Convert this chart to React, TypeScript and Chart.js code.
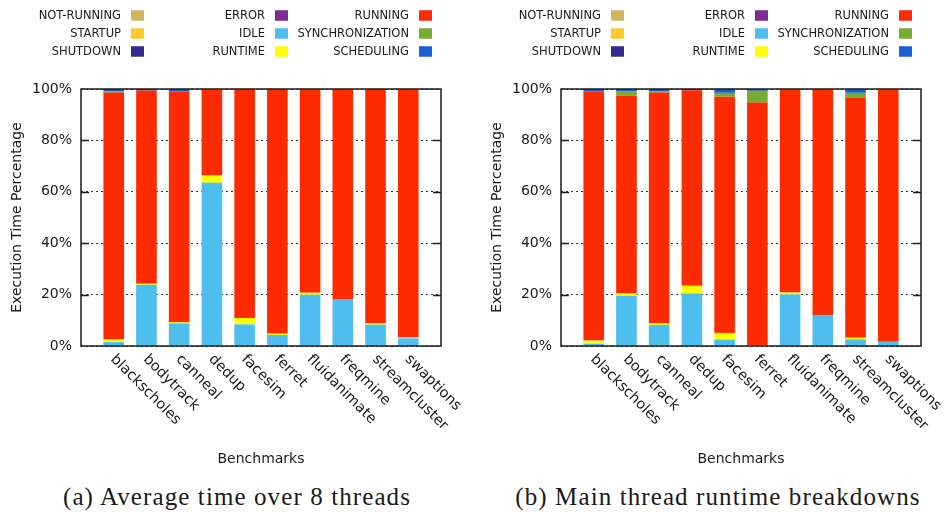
import React, { useEffect, useRef } from "react";
import { Chart, registerables } from "chart.js";

Chart.register(...registerables);

// ---------------- data ----------------
const benchmarks = [
  "blackscholes", "bodytrack", "canneal", "dedup", "facesim",
  "ferret", "fluidanimate", "freqmine", "streamcluster", "swaptions",
];
const yTicks = [0, 20, 40, 60, 80, 100];

const stateNames = [
  "NOT-RUNNING", "STARTUP", "SHUTDOWN",
  "ERROR", "IDLE", "RUNTIME",
  "RUNNING", "SYNCHRONIZATION", "SCHEDULING",
];
const stateColors = [
  "#ccb85c", "#ffc72c", "#35298a",
  "#7e2d8e", "#4dbeee", "#ffff00",
  "#ff2b00", "#77ac30", "#1a5fd6",
];

// (a) Average time over 8 threads
const avgNotRunning = [0, 0, 0, 0, 0, 0, 0, 0, 0, 0];
const avgStartup = [0, 0, 0, 0, 0, 0, 0, 0, 0, 0];
const avgShutdown = [0, 0, 0, 0, 0, 0, 0, 0, 0, 0];
const avgError = [0, 0, 0, 0, 0, 0, 0, 0, 0, 0];
const avgIdle = [1.5, 23.8, 8.8, 63.5, 8.4, 4.3, 19.9, 18.3, 8.3, 3.0];
const avgRuntime = [1.0, 0.4, 0.4, 2.8, 2.5, 0.5, 0.8, 0.0, 0.5, 0.3];
const avgRunning = [96.1, 75.2, 89.8, 33.5, 88.8, 94.9, 79.0, 81.4, 90.8, 96.4];
const avgSync = [0.4, 0, 0, 0, 0, 0, 0, 0, 0, 0];
const avgScheduling = [1.0, 0.6, 1.0, 0.2, 0.3, 0.3, 0.3, 0.3, 0.4, 0.3];

// (b) Main thread runtime breakdowns
const mainNotRunning = [0, 0, 0, 0, 0, 0.4, 0, 0, 0, 0];
const mainStartup = [0, 0, 0, 0, 0, 0, 0, 0, 0, 0];
const mainShutdown = [0, 0, 0, 0, 0, 0, 0, 0, 0, 0];
const mainError = [0, 0, 0, 0, 0, 0, 0, 0, 0, 0];
const mainIdle = [0.9, 19.6, 8.2, 20.4, 2.5, 0, 20.0, 12.1, 2.6, 1.7];
const mainRuntime = [1.2, 0.8, 0.6, 3.0, 2.6, 0, 0.8, 0, 0.6, 0];
const mainRunning = [97.0, 76.9, 89.8, 76.1, 91.9, 94.3, 78.9, 87.6, 93.5, 98.1];
const mainSync = [0, 1.9, 0.4, 0, 1.5, 4.6, 0, 0, 1.8, 0];
const mainScheduling = [0.9, 0.8, 1.0, 0.5, 1.5, 0.7, 0.3, 0.3, 1.5, 0.2];

const avgSeries = [
  avgNotRunning, avgStartup, avgShutdown, avgError, avgIdle,
  avgRuntime, avgRunning, avgSync, avgScheduling,
];
const mainSeries = [
  mainNotRunning, mainStartup, mainShutdown, mainError, mainIdle,
  mainRuntime, mainRunning, mainSync, mainScheduling,
];

const captionA = "(a) Average time over 8 threads";
const captionB = "(b) Main thread runtime breakdowns";

// ---------------- plugins ----------------
const TEXT = "#1a1a1a";
const SANS = "'DejaVu Sans', sans-serif";

const framePlugin = {
  id: "frame",
  afterDatasetsDraw(chart: any) {
    const { ctx, chartArea: a, scales } = chart;
    const y = scales.y;
    ctx.save();
    ctx.strokeStyle = TEXT;
    ctx.lineWidth = 1.5;
    ctx.beginPath();
    for (const t of y.ticks) {
      if (t.value === 0 || t.value === 100) continue;
      const py = Math.round(y.getPixelForValue(t.value)) + 0.5;
      ctx.moveTo(a.left, py);
      ctx.lineTo(a.left + 8, py);
      ctx.moveTo(a.right - 8, py);
      ctx.lineTo(a.right, py);
    }
    ctx.stroke();
    ctx.strokeRect(a.left, a.top, a.right - a.left, a.bottom - a.top);
    ctx.restore();
  },
};

const legendPlugin = {
  id: "gpLegend",
  afterDraw(chart: any) {
    const { ctx, chartArea: a } = chart;
    ctx.save();
    ctx.font = "11.5px " + SANS;
    ctx.textAlign = "right";
    ctx.textBaseline = "middle";
    chart.data.datasets.forEach((ds: any, i: number) => {
      const col = Math.floor(i / 3);
      const row = i % 3;
      const boxRight = a.right - 9 - (2 - col) * 144;
      const boxLeft = boxRight - 13;
      const cy = 15.5 + row * 18;
      ctx.fillStyle = ds.backgroundColor;
      ctx.fillRect(boxLeft, cy - 5.25, 13, 10.5);
      ctx.fillStyle = TEXT;
      ctx.fillText(ds.label, boxLeft - 10, cy + 0.5);
    });
    ctx.restore();
  },
};

const xLabelPlugin = {
  id: "xLabels",
  afterDraw(chart: any) {
    const { ctx, chartArea: a, scales } = chart;
    const x = scales.x;
    ctx.save();
    ctx.font = "14.5px " + SANS;
    ctx.fillStyle = TEXT;
    ctx.textAlign = "left";
    ctx.textBaseline = "middle";
    benchmarks.forEach((name, i) => {
      const px = x.getPixelForValue(i + 1);
      ctx.save();
      ctx.translate(px - 1, a.bottom + 11);
      ctx.rotate(Math.PI / 4);
      ctx.fillText(name, 0, 0);
      ctx.restore();
    });
    ctx.restore();
  },
};

// ---------------- component ----------------
const W = 480;
const H = 470;

function Panel({ series, left }: { series: number[][]; left: number }) {
  const ref = useRef<HTMLCanvasElement | null>(null);
  useEffect(() => {
    if (!ref.current) return;
    const labels = ["", ...benchmarks, ""];
    const chart = new Chart(ref.current, {
      type: "bar",
      data: {
        labels,
        datasets: series.map((vals, i) => ({
          label: stateNames[i],
          data: [null, ...vals, null],
          backgroundColor: stateColors[i],
          borderWidth: 0,
          categoryPercentage: 1,
          barPercentage: 0.63,
        })),
      },
      options: {
        responsive: false,
        maintainAspectRatio: false,
        animation: false,
        devicePixelRatio: 1,
        layout: { padding: { top: 89, right: W - 441, left: 0, bottom: 0 } },
        plugins: { legend: { display: false }, tooltip: { enabled: false } },
        scales: {
          x: {
            stacked: true,
            offset: false,
            grid: { display: false },
            border: { display: false },
            ticks: { display: false },
            title: {
              display: true,
              text: "Benchmarks",
              color: TEXT,
              font: { family: SANS, size: 14 },
              padding: { top: 0, bottom: 2 },
            },
            afterFit: (s: any) => {
              s.height = H - 346;
            },
          },
          y: {
            stacked: true,
            min: 0,
            max: 100,
            afterBuildTicks: (s: any) => {
              s.ticks = yTicks.map((v) => ({ value: v }));
            },
            ticks: {
              color: TEXT,
              font: { family: SANS, size: 14 },
              padding: 9,
              callback: (v: any) => v + "%",
            },
            grid: {
              display: true,
              drawTicks: false,
              color: "#333",
              lineWidth: 1,
            },
            border: { display: false, dash: [2, 3] },
            title: {
              display: true,
              text: "Execution Time Percentage",
              color: TEXT,
              font: { family: SANS, size: 14 },
              padding: { top: 9, bottom: 0 },
            },
            afterFit: (s: any) => {
              s.width = 81;
            },
          },
        },
      },
      plugins: [framePlugin, legendPlugin, xLabelPlugin],
    } as any);
    return () => chart.destroy();
  }, [series]);
  return (
    <canvas
      ref={ref}
      width={W}
      height={H}
      style={{ position: "absolute", left, top: 0, width: W, height: H, display: "block" }}
    />
  );
}

const captionStyle = (center: number): React.CSSProperties => ({
  position: "absolute",
  left: center - 240,
  width: 480,
  top: 482,
  textAlign: "center",
  fontFamily: "'Liberation Serif', serif",
  fontSize: 25,
  letterSpacing: 1.1,
  lineHeight: "30px",
  color: TEXT,
  whiteSpace: "nowrap",
});

export default function App() {
  return (
    <div
      style={{
        position: "absolute",
        left: 0,
        top: 0,
        width: 946,
        height: 512,
        overflow: "hidden",
        background: "#fff",
      }}
    >
      <Panel series={avgSeries} left={0} />
      <Panel series={mainSeries} left={480} />
      <div style={captionStyle(237)}>{captionA}</div>
      <div style={captionStyle(718)}>{captionB}</div>
    </div>
  );
}
